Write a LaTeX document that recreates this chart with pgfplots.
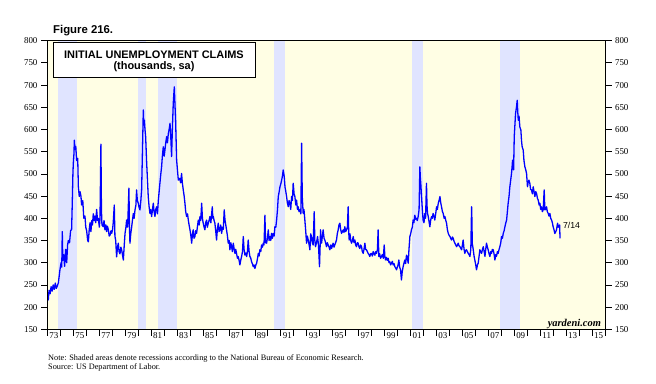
\documentclass[border=0pt]{standalone}
\usepackage{fontspec}
\setmainfont{Liberation Serif}
\newfontfamily\arial{Liberation Sans}
\usepackage{pgfplots}
\pgfplotsset{compat=1.18}
\definecolor{bgy}{RGB}{255,254,228}
\definecolor{rec}{RGB}{224,228,255}
\definecolor{lineblue}{RGB}{0,0,255}
\begin{document}
\begin{tikzpicture}[x=1bp,y=1bp]
\useasboundingbox (0,0) rectangle (656,383);
\begin{axis}[
  at={(47.5bp,53.7bp)}, anchor=south west,
  width=557.5bp, height=288.6bp, scale only axis,
  xmin=1973, xmax=2016, ymin=150, ymax=800,
  axis background/.style={fill=bgy},
  axis on top,
  xtick={1973,...,2016}, xticklabels={},
  extra x ticks={1973.5,1975.5,1977.5,1979.5,1981.5,1983.5,1985.5,1987.5,1989.5,1991.5,1993.5,1995.5,1997.5,1999.5,2001.5,2003.5,2005.5,2007.5,2009.5,2011.5,2013.5,2015.5},
  extra x tick labels={73,75,77,79,81,83,85,87,89,91,93,95,97,99,01,03,05,07,09,11,13,15},
  extra x tick style={major tick length=0pt},
  ytick={150,200,...,800},
  xtick pos=left, ytick pos=left,
  tick align=outside, major tick length=6.5bp,
  tick style={black, line width=0.8bp},
  axis line style={line width=0.9bp},
  ticklabel style={font=\fontsize{9}{9}\selectfont},
  /pgf/number format/assume math mode=true,
]
\addplot[fill=rec, draw=none, forget plot] coordinates {(1973.8,150) (1973.8,800) (1975.3,800) (1975.3,150)} -- cycle;
\addplot[fill=rec, draw=none, forget plot] coordinates {(1980.0,150) (1980.0,800) (1980.62,800) (1980.62,150)} -- cycle;
\addplot[fill=rec, draw=none, forget plot] coordinates {(1981.54,150) (1981.54,800) (1982.96,800) (1982.96,150)} -- cycle;
\addplot[fill=rec, draw=none, forget plot] coordinates {(1990.5,150) (1990.5,800) (1991.3,800) (1991.3,150)} -- cycle;
\addplot[fill=rec, draw=none, forget plot] coordinates {(2001.13,150) (2001.13,800) (2001.93,800) (2001.93,150)} -- cycle;
\addplot[fill=rec, draw=none, forget plot] coordinates {(2007.89,150) (2007.89,800) (2009.48,800) (2009.48,150)} -- cycle;
\addplot[lineblue, line width=1.3bp, line join=round] table {
x y
1973.00 225
1973.06 216
1973.12 238
1973.20 230
1973.28 246
1973.36 236
1973.44 250
1973.52 240
1973.60 254
1973.68 242
1973.76 248
1973.84 255
1973.96 284
1974.05 300
1974.10 290
1974.14 370
1974.18 305
1974.25 318
1974.32 292
1974.40 330
1974.48 300
1974.55 340
1974.61 350
1974.70 345
1974.78 372
1974.86 375
1974.91 434
1974.96 500
1974.99 524
1975.04 545
1975.07 576
1975.12 555
1975.18 562
1975.25 530
1975.33 535
1975.38 471
1975.45 449
1975.51 460
1975.58 450
1975.63 430
1975.72 440
1975.80 400
1975.89 405
1975.95 380
1976.02 372
1976.10 350
1976.15 347
1976.22 375
1976.28 390
1976.35 370
1976.41 395
1976.47 385
1976.53 410
1976.60 395
1976.66 405
1976.72 390
1976.79 420
1976.86 395
1976.92 400
1977.00 380
1977.05 400
1977.12 567
1977.16 420
1977.20 385
1977.30 381
1977.36 395
1977.43 374
1977.50 385
1977.56 370
1977.62 382
1977.69 375
1977.76 360
1977.82 362
1977.90 372
1977.95 366
1978.02 375
1978.07 390
1978.15 430
1978.20 360
1978.26 350
1978.33 313
1978.40 335
1978.46 344
1978.52 325
1978.59 320
1978.66 335
1978.72 329
1978.80 315
1978.85 306
1978.92 340
1978.98 366
1979.05 380
1979.10 396
1979.18 380
1979.28 468
1979.32 380
1979.36 344
1979.42 365
1979.49 380
1979.55 395
1979.62 411
1979.68 400
1979.75 419
1979.82 430
1979.87 464
1979.93 440
1980.00 434
1980.06 425
1980.13 419
1980.20 440
1980.26 464
1980.33 560
1980.39 644
1980.43 610
1980.47 621
1980.52 600
1980.57 584
1980.65 524
1980.72 480
1980.77 449
1980.84 425
1980.90 411
1980.96 420
1981.03 404
1981.10 420
1981.16 434
1981.22 415
1981.29 404
1981.35 420
1981.42 426
1981.48 410
1981.55 441
1981.61 460
1981.67 479
1981.74 500
1981.80 516
1981.86 540
1981.93 561
1982.00 540
1982.06 554
1982.12 570
1982.19 584
1982.25 570
1982.32 591
1982.38 600
1982.45 614
1982.52 576
1982.57 539
1982.63 600
1982.70 659
1982.78 696
1982.84 650
1982.88 621
1982.96 531
1983.02 510
1983.09 486
1983.20 490
1983.27 480
1983.34 501
1983.40 480
1983.47 464
1983.54 450
1983.60 434
1983.66 415
1983.73 404
1983.80 410
1983.86 396
1983.92 385
1983.99 374
1984.06 360
1984.12 344
1984.18 365
1984.24 374
1984.30 355
1984.37 359
1984.43 372
1984.50 366
1984.56 380
1984.63 396
1984.70 385
1984.76 404
1984.82 395
1984.89 434
1984.95 400
1985.01 389
1985.08 380
1985.14 374
1985.20 390
1985.27 396
1985.33 380
1985.40 389
1985.46 395
1985.53 404
1985.60 390
1985.66 410
1985.71 426
1985.75 400
1985.79 404
1985.85 395
1985.91 389
1985.98 370
1986.04 351
1986.10 375
1986.17 389
1986.23 370
1986.30 374
1986.36 385
1986.43 366
1986.50 380
1986.56 375
1986.63 419
1986.69 396
1986.75 385
1986.81 374
1986.88 360
1986.94 344
1987.01 350
1987.07 329
1987.14 345
1987.20 336
1987.26 325
1987.33 344
1987.40 330
1987.46 321
1987.52 330
1987.58 321
1987.65 310
1987.71 314
1987.78 305
1987.84 295
1987.90 305
1987.97 314
1988.04 325
1988.10 359
1988.16 330
1988.23 317
1988.30 322
1988.36 314
1988.42 325
1988.48 351
1988.55 325
1988.61 314
1988.68 310
1988.74 302
1988.80 298
1988.87 291
1988.93 295
1989.00 287
1989.07 295
1989.13 299
1989.20 310
1989.26 321
1989.32 315
1989.38 329
1989.45 325
1989.51 340
1989.58 335
1989.64 344
1989.70 340
1989.77 407
1989.82 345
1989.90 344
1989.96 355
1990.03 374
1990.09 350
1990.16 359
1990.22 350
1990.28 366
1990.35 355
1990.41 366
1990.48 360
1990.54 381
1990.61 380
1990.67 396
1990.74 420
1990.80 449
1990.87 460
1990.93 471
1991.00 478
1991.06 486
1991.12 495
1991.18 509
1991.26 494
1991.32 470
1991.36 464
1991.44 449
1991.50 435
1991.57 426
1991.63 440
1991.70 434
1991.76 420
1991.83 449
1991.89 440
1991.95 479
1992.02 455
1992.08 449
1992.15 430
1992.21 441
1992.28 420
1992.34 426
1992.40 415
1992.47 419
1992.54 410
1992.60 569
1992.65 449
1992.72 411
1992.78 420
1992.85 396
1992.92 370
1992.98 344
1993.04 360
1993.11 351
1993.18 340
1993.24 329
1993.30 365
1993.36 359
1993.42 345
1993.49 340
1993.57 415
1993.62 350
1993.67 336
1993.75 345
1993.83 359
1993.90 340
1993.98 291
1994.03 340
1994.06 374
1994.10 350
1994.14 344
1994.20 360
1994.26 374
1994.33 355
1994.39 351
1994.45 345
1994.52 336
1994.58 345
1994.65 340
1994.72 335
1994.78 329
1994.85 340
1994.91 332
1994.97 338
1995.03 344
1995.10 335
1995.16 340
1995.22 345
1995.29 351
1995.35 365
1995.42 374
1995.48 385
1995.55 389
1995.61 375
1995.68 366
1995.74 370
1995.81 374
1995.87 368
1995.93 381
1996.00 370
1996.06 374
1996.13 380
1996.19 426
1996.23 370
1996.27 351
1996.33 365
1996.39 350
1996.45 344
1996.52 350
1996.58 359
1996.64 345
1996.71 351
1996.77 340
1996.83 336
1996.90 345
1996.96 344
1997.03 335
1997.09 332
1997.15 340
1997.22 336
1997.28 325
1997.35 321
1997.41 330
1997.48 344
1997.54 330
1997.60 329
1997.67 325
1997.73 321
1997.80 318
1997.86 314
1997.92 320
1997.99 321
1998.05 315
1998.12 325
1998.18 320
1998.25 317
1998.31 325
1998.38 321
1998.45 330
1998.50 374
1998.53 340
1998.56 314
1998.62 320
1998.69 310
1998.76 314
1998.82 318
1998.90 310
1998.97 340
1999.02 315
1999.07 306
1999.14 312
1999.21 305
1999.28 310
1999.34 300
1999.40 302
1999.47 295
1999.53 299
1999.60 303
1999.66 295
1999.73 298
1999.79 291
1999.86 288
1999.92 284
1999.98 290
2000.04 295
2000.10 306
2000.16 290
2000.23 284
2000.30 261
2000.36 280
2000.43 291
2000.50 300
2000.56 306
2000.62 298
2000.69 317
2000.76 310
2000.82 299
2000.88 330
2000.95 359
2001.01 365
2001.07 374
2001.14 380
2001.20 396
2001.26 390
2001.33 407
2001.40 398
2001.46 400
2001.52 395
2001.59 404
2001.66 420
2001.72 516
2001.76 490
2001.79 479
2001.85 449
2001.91 420
2001.97 396
2002.04 390
2002.10 411
2002.16 400
2002.23 479
2002.27 430
2002.31 411
2002.36 405
2002.41 396
2002.49 381
2002.55 395
2002.62 404
2002.68 400
2002.74 411
2002.81 405
2002.87 396
2002.94 410
2003.01 426
2003.07 420
2003.14 434
2003.20 440
2003.27 449
2003.33 435
2003.39 426
2003.46 415
2003.52 411
2003.59 400
2003.65 404
2003.72 395
2003.78 389
2003.84 375
2003.91 366
2003.97 362
2004.04 359
2004.10 355
2004.17 351
2004.23 358
2004.29 355
2004.36 348
2004.42 344
2004.49 340
2004.55 336
2004.62 340
2004.68 344
2004.74 338
2004.81 336
2004.87 333
2004.94 329
2005.00 340
2005.06 351
2005.13 330
2005.19 321
2005.26 328
2005.32 329
2005.39 325
2005.45 321
2005.52 318
2005.58 314
2005.65 330
2005.71 426
2005.74 390
2005.76 344
2005.84 329
2005.90 315
2005.96 306
2006.03 295
2006.09 284
2006.16 295
2006.22 299
2006.29 315
2006.35 329
2006.42 325
2006.48 321
2006.55 330
2006.61 336
2006.68 325
2006.74 314
2006.80 330
2006.86 344
2006.93 335
2006.99 329
2007.06 320
2007.12 314
2007.19 325
2007.25 321
2007.31 330
2007.38 329
2007.44 320
2007.51 306
2007.57 318
2007.63 314
2007.70 325
2007.76 321
2007.83 330
2007.89 336
2007.96 345
2008.02 359
2008.09 355
2008.15 366
2008.22 372
2008.28 381
2008.35 390
2008.41 396
2008.47 415
2008.53 434
2008.60 450
2008.66 471
2008.72 485
2008.79 501
2008.83 515
2008.87 531
2008.95 509
2009.00 584
2009.05 610
2009.10 636
2009.17 650
2009.23 666
2009.27 640
2009.31 621
2009.37 630
2009.43 606
2009.51 599
2009.56 575
2009.61 561
2009.69 554
2009.75 530
2009.82 516
2009.88 510
2009.95 501
2010.02 471
2010.07 480
2010.13 486
2010.20 479
2010.26 465
2010.33 464
2010.40 455
2010.46 471
2010.53 460
2010.59 449
2010.66 460
2010.72 456
2010.79 445
2010.85 441
2010.92 430
2010.98 434
2011.04 420
2011.10 426
2011.17 415
2011.23 419
2011.31 464
2011.36 419
2011.42 420
2011.49 426
2011.55 415
2011.62 411
2011.68 405
2011.75 411
2011.81 400
2011.88 396
2011.94 390
2012.00 381
2012.06 375
2012.13 366
2012.20 370
2012.26 374
2012.34 389
2012.40 380
2012.44 381
2012.50 385
2012.53 355
};
\node[anchor=west, inner sep=0pt, font=\arial\fontsize{8.7}{9}\selectfont] at (axis cs:2012.75,385) {7/14};
\node[anchor=base east, inner sep=0pt, font=\fontsize{10.5}{11}\selectfont\bfseries\itshape] at (axis cs:2015.7,157) {yardeni.com};
\end{axis}
\begin{axis}[
  at={(47.5bp,53.7bp)}, anchor=south west,
  width=557.5bp, height=288.6bp, scale only axis,
  xmin=1973, xmax=2016, ymin=150, ymax=800,
  hide x axis, axis y line*=right,
  ytick={150,200,...,800},
  tick align=outside, major tick length=6.5bp,
  tick style={black, line width=0.8bp},
  axis line style={line width=0.9bp},
  ticklabel style={font=\fontsize{9}{9}\selectfont},
  /pgf/number format/assume math mode=true,
]
\addplot[draw=none] coordinates {(1973,150)};
\end{axis}
\node[anchor=base west, inner sep=0pt, font=\arial\bfseries\fontsize{11.4}{12}\selectfont] at (53,350) {Figure 216.};
\draw[fill=white, line width=0.9bp] (53,305.7) rectangle (255,340.3);
\node[anchor=base, inner sep=0pt, font=\arial\bfseries\fontsize{11}{11}\selectfont] at (154,324.7) {INITIAL UNEMPLOYMENT CLAIMS};
\node[anchor=base, inner sep=0pt, font=\arial\bfseries\fontsize{11}{11}\selectfont] at (154,314) {(thousands, sa)};
\node[anchor=base west, inner sep=0pt, font=\fontsize{8.3}{8.3}\selectfont] at (48,22.3) {Note: Shaded areas denote recessions according to the National Bureau of Economic Research.};
\node[anchor=base west, inner sep=0pt, font=\fontsize{8.3}{8.3}\selectfont] at (48,14) {Source: US Department of Labor.};
\end{tikzpicture}
\end{document}
